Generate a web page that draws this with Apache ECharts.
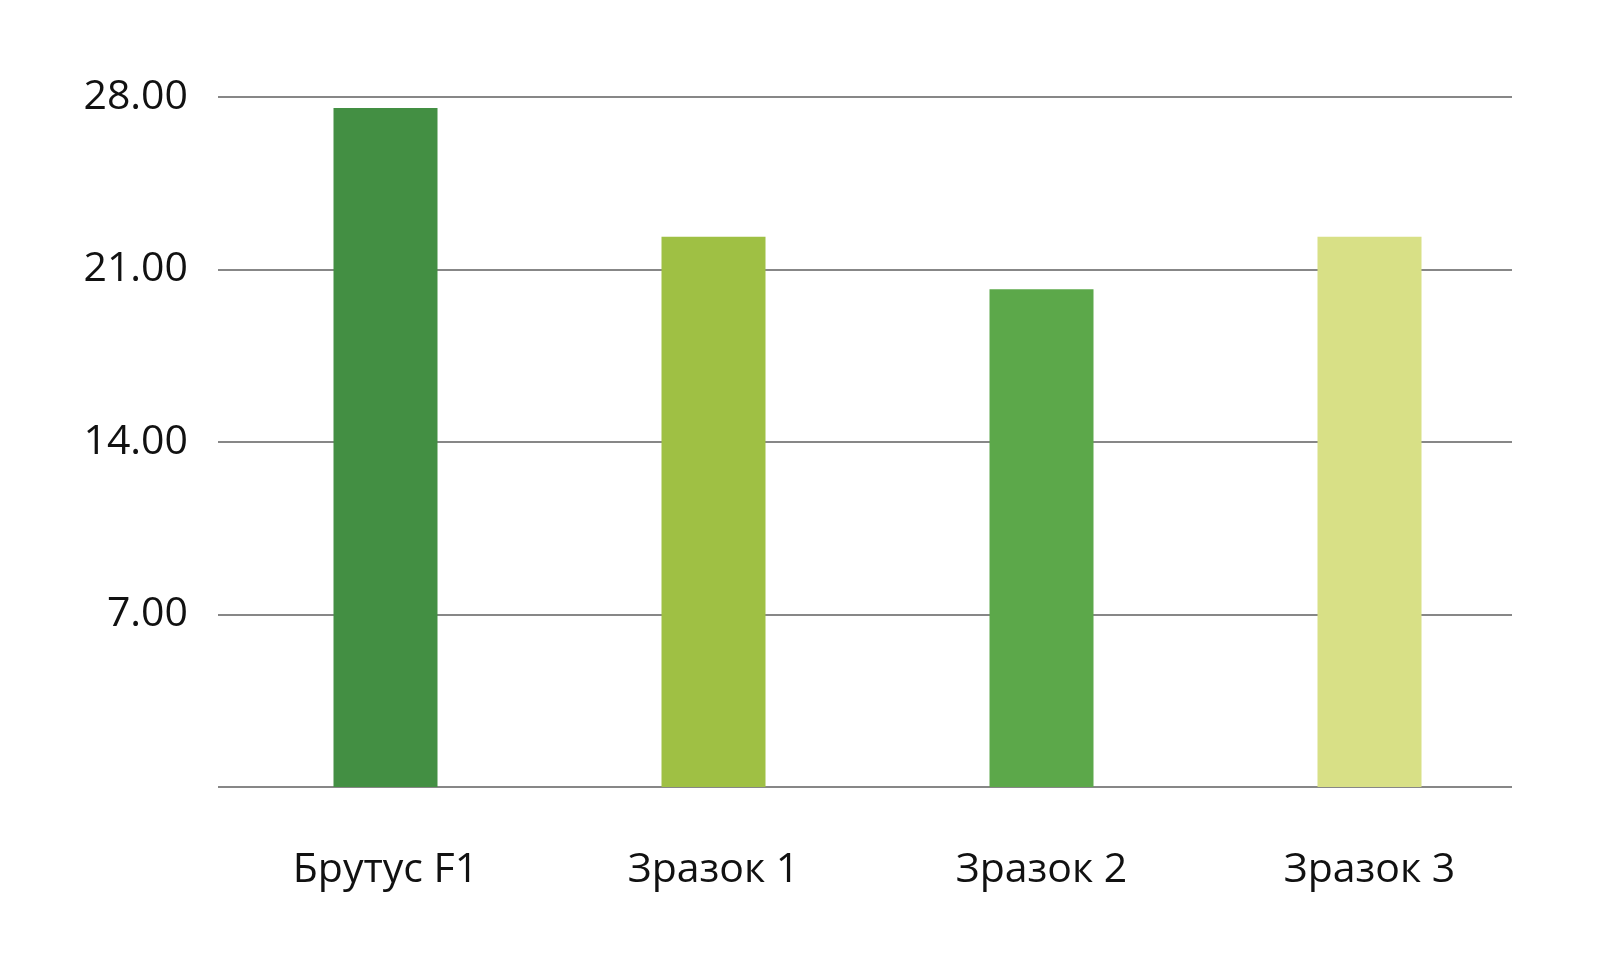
<!DOCTYPE html>
<html>
<head>
<meta charset="utf-8">
<script src="https://cdn.jsdelivr.net/npm/echarts@6/dist/echarts.min.js"></script>
<style>
  html, body { margin: 0; padding: 0; background: #fff; }
  #chart { width: 1612px; height: 958px; }
</style>
</head>
<body>
<div id="chart"></div>
<script>
var categories = ["Брутус F1", "Зразок 1", "Зразок 2", "Зразок 3"];
var values = [27.55, 22.33, 20.2, 22.33];
var barColors = ["#438f43", "#9fc044", "#5ca84a", "#d8e086"];
var yTicks = [0, 7, 14, 21, 28];

var chart = echarts.init(document.getElementById("chart"));

var barData = [];
for (var i = 0; i < values.length; i++) {
  barData.push({ value: values[i], itemStyle: { color: barColors[i] } });
}

var option = {
  animation: false,
  textStyle: { fontFamily: "Open Sans" },
  grid: [
    // grid for the gridlines and y labels
    { left: 218, right: 100, top: 97, height: 690 },
    // grid for the bars (category bands are a bit wider than the gridlines)
    { left: 221.5, right: 78.5, top: 97, height: 690 }
  ],
  xAxis: [
    { type: "category", gridIndex: 0, data: categories, show: false },
    {
      type: "category",
      gridIndex: 1,
      data: categories,
      axisLine: { show: false },
      axisTick: { show: false },
      axisLabel: { color: "#111", fontSize: 41, margin: 63, fontFamily: "Open Sans" }
    }
  ],
  yAxis: [
    {
      type: "value",
      gridIndex: 0,
      min: yTicks[0],
      max: yTicks[yTicks.length - 1],
      interval: 7,
      axisLine: { show: false },
      axisTick: { show: false },
      axisLabel: {
        color: "#111",
        fontSize: 41,
        margin: 30,
        fontFamily: "Open Sans",
        formatter: function (v) { return v === 0 ? "" : v.toFixed(2); }
      },
      splitLine: { lineStyle: { color: "#878787", width: 2 } }
    },
    {
      type: "value",
      gridIndex: 1,
      min: yTicks[0],
      max: yTicks[yTicks.length - 1],
      interval: 7,
      show: false,
      splitLine: { show: false }
    }
  ],
  series: [
    {
      type: "bar",
      xAxisIndex: 1,
      yAxisIndex: 1,
      barWidth: 104,
      data: barData
    }
  ]
};

chart.setOption(option);
</script>
</body>
</html>
